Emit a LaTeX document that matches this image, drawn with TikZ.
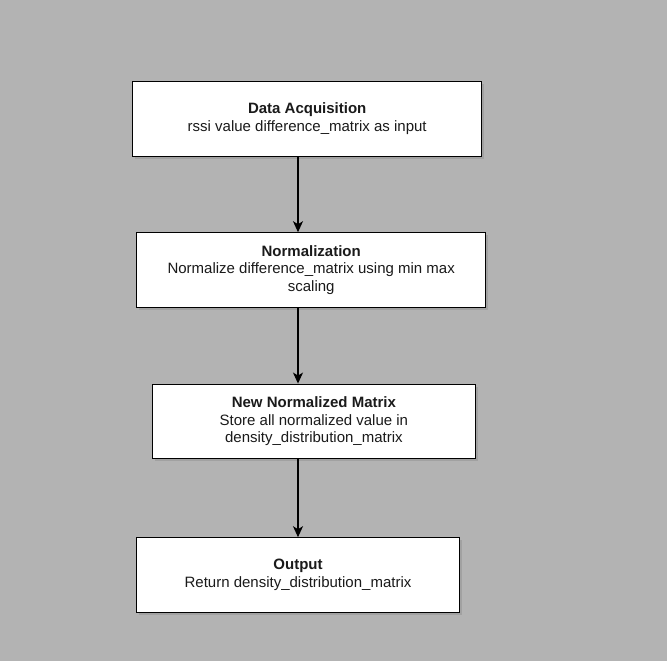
\documentclass[tikz,border=0pt]{standalone}
\usepackage{fontspec}
\setmainfont{Liberation Sans}
\usepackage{xcolor}
\usetikzlibrary{shadows,arrows.meta}
\definecolor{bggray}{HTML}{B3B3B3}
\definecolor{txtgray}{HTML}{1A1A1A}

\begin{document}
\begin{tikzpicture}[x=1pt,y=-1pt,>={Stealth[length=11pt,width=10pt,inset=3pt]},
    stagebox/.style={draw, fill=white, line width=1pt, align=center, inner sep=0pt,
      text=txtgray, font=\fontsize{15}{17.7}\selectfont,
      drop shadow={opacity=0.35, shadow xshift=2.5pt, shadow yshift=-2.5pt}}]
  \fill[bggray] (0,0) rectangle (667,661);
  \useasboundingbox (0,0) rectangle (667,661);
  \node[stagebox, minimum width=349pt, minimum height=74.3pt] (acq) at (307.2,118.9)
    {\textbf{Data Acquisition}\\rssi value difference\_matrix as input};
  \node[stagebox, minimum width=349pt, minimum height=74.6pt] (norm) at (311.2,270)
    {\textbf{Normalization}\\Normalize difference\_matrix using min max\\scaling};
  \node[stagebox, minimum width=322.3pt, minimum height=74.7pt] (newmat) at (313.9,421.4)
    {\textbf{New Normalized Matrix}\\Store all normalized value in\\density\_distribution\_matrix};
  \node[stagebox, minimum width=322.6pt, minimum height=74.6pt] (out) at (298,575)
    {\textbf{Output}\\Return density\_distribution\_matrix};
  \draw[->, line width=1.2pt] (acq.south -| out.north) -- (norm.north -| out.north);
  \draw[->, line width=1.2pt] (norm.south -| out.north) -- (newmat.north -| out.north);
  \draw[->, line width=1.2pt] (newmat.south -| out.north) -- (out.north);
\end{tikzpicture}
\end{document}
